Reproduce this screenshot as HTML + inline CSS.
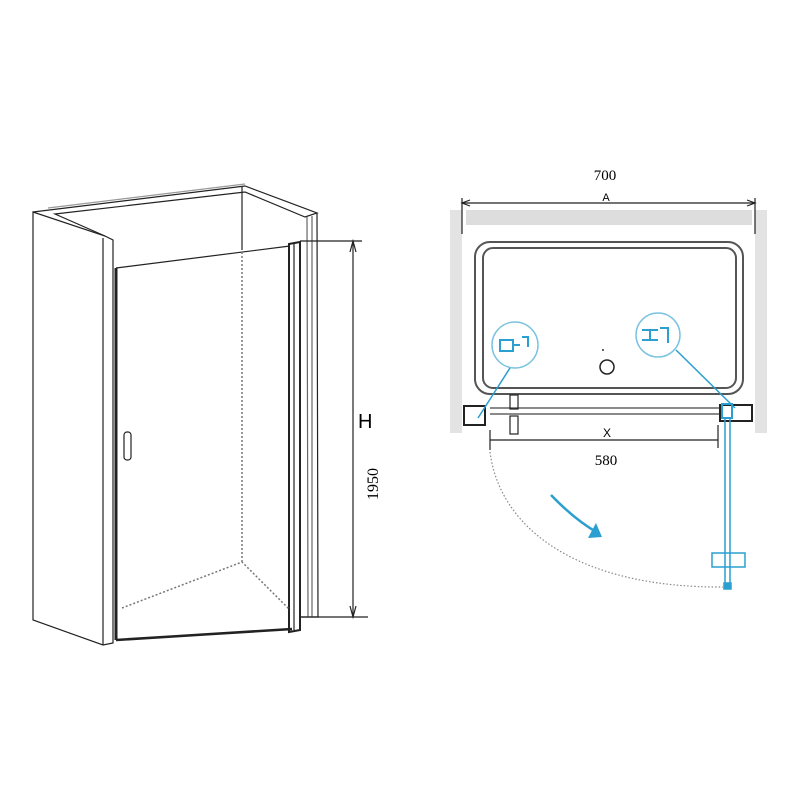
<!DOCTYPE html>
<html><head><style>body{margin:0;background:#fff}svg{display:block}</style></head><body>
<svg width="800" height="800" viewBox="0 0 800 800" xmlns="http://www.w3.org/2000/svg" font-family="Liberation Serif, serif">
<rect width="800" height="800" fill="#fff"/>
<g fill="none" stroke="#222" stroke-width="1.2">
<path d="M33,212 L33,620 L103,645 L113,643 L113,240 L105,236 Z"/>
<path d="M103,645 L103,238"/>
<path d="M33,212 L245,186 L317,213 L305,217 L245,192 L55,214 L105,236"/>
<path d="M48,208 L245,184" stroke="#999"/>
<path d="M317,213 L318,617 L300,617"/>
<path d="M307,217 L308,617 M312,216 L312,617" stroke="#666"/>
<path d="M242,187 L242,250"/>
<path d="M116,268 L290,246"/>
<path d="M116,268 L116,640" stroke-width="3"/>
<path d="M116,640 L292,629" stroke-width="2.5"/>
<path d="M289,244 L300,242 L300,630 L289,632 Z" stroke-width="2"/>
<path d="M294,244 L294,630"/>
<rect x="124" y="432" width="7" height="28" rx="3"/>
<path d="M242,252 L242,562 M122,608 L242,562 L290,610" stroke="#777" stroke-dasharray="2,2" stroke-width="1.5"/>
<path d="M300,241 L362,241 M300,617 L368,617 M353,241 L353,617"/>
<path d="M350,252 L353,241 L356,252 M350,606 L353,617 L356,606"/>
</g>
<text x="358" y="428" font-family="Liberation Sans, sans-serif" font-size="20">H</text>
<text transform="translate(378,500) rotate(-90)" font-size="16">1950</text>
<rect x="466" y="210" width="286" height="15" fill="#ddd"/>
<rect x="450" y="210" width="12" height="223" fill="#e3e3e3"/>
<rect x="755" y="210" width="12" height="223" fill="#e3e3e3"/>
<g fill="none" stroke="#222" stroke-width="1.2">
<path d="M462,203 L755,203 M462,198 L462,234 M755,198 L755,234"/>
<path d="M470,200 L462,203 L470,206 M747,200 L755,203 L747,206"/>
<rect x="475" y="242" width="268" height="152" rx="15" stroke="#555" stroke-width="2"/>
<rect x="483" y="248" width="253" height="140" rx="10" stroke="#555" stroke-width="2"/>
<circle cx="607" cy="367" r="7" stroke-width="1.5"/>
<path d="M490,408 L722,408 M490,414 L722,414" stroke="#444"/>
<rect x="464" y="406" width="21" height="19" stroke-width="2"/>
<rect x="720" y="405" width="32" height="16" stroke-width="2"/>
<rect x="510" y="395" width="8" height="14"/>
<rect x="510" y="416" width="8" height="18"/>
<path d="M490,440 L718,440 M490,430 L490,450 M718,425 L718,448"/>
<path d="M490,452 C500,530 580,588 723,587" stroke="#888" stroke-dasharray="1.5,2"/>
</g>
<circle cx="603" cy="350" r="1" fill="#333"/>
<text x="605" y="180" font-size="15" text-anchor="middle">700</text>
<text x="606" y="201" font-family="Liberation Sans, sans-serif" font-size="11" text-anchor="middle">A</text>
<text x="607" y="437" font-family="Liberation Sans, sans-serif" font-size="12" text-anchor="middle">X</text>
<text x="606" y="465" font-size="15" text-anchor="middle">580</text>
<g fill="none" stroke="#2a9fd0" stroke-width="1.5">
<circle cx="515" cy="345" r="23" stroke="#7cc3e0"/>
<circle cx="658" cy="335" r="22" stroke="#7cc3e0"/>
<path d="M500,340 L513,340 L513,351 L500,351 Z M513,345 L520,345 M522,337 L528,337 L528,347" stroke-width="2"/>
<path d="M642,330 L658,330 M642,340 L658,340 M650,330 L650,340 M660,328 L668,328 L668,343" stroke-width="2"/>
<path d="M510,368 L478,418 M676,350 L735,408"/>
<rect x="722" y="404" width="10" height="14" stroke-width="2"/>
<path d="M725,418 L725,588 M730,418 L730,588"/>
<rect x="712" y="553" width="33" height="14"/>
<rect x="724" y="583" width="7" height="6" fill="#2a9fd0"/>
<path d="M551,495 Q575,520 598,533" stroke-width="2.5"/>
</g>
<path d="M588,538 L602,537 L596,523 Z" fill="#2a9fd0"/>
</svg>
</body></html>
